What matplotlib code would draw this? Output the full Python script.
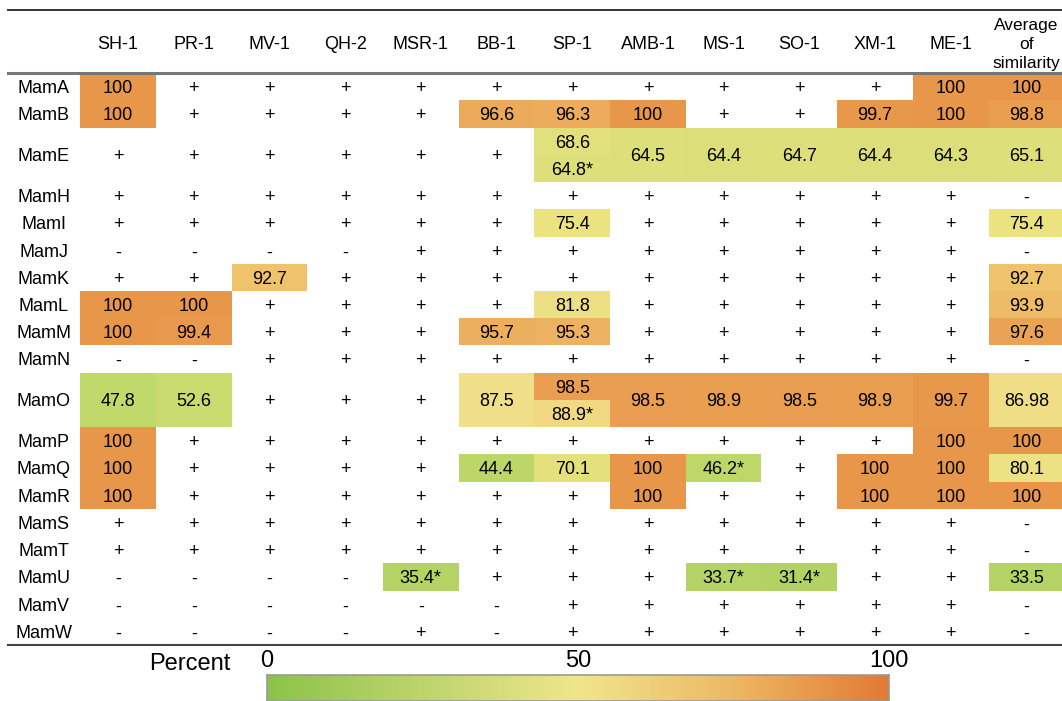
import numpy as np
import matplotlib
matplotlib.use("Agg")
import matplotlib.pyplot as plt
from matplotlib.colors import LinearSegmentedColormap, Normalize
from matplotlib.patches import Rectangle

plt.rcParams['font.family'] = ['Liberation Sans', 'DejaVu Sans']

# ---- data ----
columns = ["SH-1", "PR-1", "MV-1", "QH-2", "MSR-1", "BB-1", "SP-1", "AMB-1",
           "MS-1", "SO-1", "XM-1", "ME-1", "Average\nof\nsimilarity"]
genes = ["MamA", "MamB", "MamE", "MamH", "MamI", "MamJ", "MamK", "MamL", "MamM",
         "MamN", "MamO", "MamP", "MamQ", "MamR", "MamS", "MamT", "MamU", "MamV", "MamW"]
# rows that are drawn twice as tall (split cell in SP-1)
tall_rows = ["MamE", "MamO"]

# "a|b" = split cell (upper value | lower value)
cells = [
    ["100", "+", "+", "+", "+", "+", "+", "+", "+", "+", "+", "100", "100"],
    ["100", "+", "+", "+", "+", "96.6", "96.3", "100", "+", "+", "99.7", "100", "98.8"],
    ["+", "+", "+", "+", "+", "+", "68.6|64.8*", "64.5", "64.4", "64.7", "64.4", "64.3", "65.1"],
    ["+", "+", "+", "+", "+", "+", "+", "+", "+", "+", "+", "+", "-"],
    ["+", "+", "+", "+", "+", "+", "75.4", "+", "+", "+", "+", "+", "75.4"],
    ["-", "-", "-", "-", "+", "+", "+", "+", "+", "+", "+", "+", "-"],
    ["+", "+", "92.7", "+", "+", "+", "+", "+", "+", "+", "+", "+", "92.7"],
    ["100", "100", "+", "+", "+", "+", "81.8", "+", "+", "+", "+", "+", "93.9"],
    ["100", "99.4", "+", "+", "+", "95.7", "95.3", "+", "+", "+", "+", "+", "97.6"],
    ["-", "-", "+", "+", "+", "+", "+", "+", "+", "+", "+", "+", "-"],
    ["47.8", "52.6", "+", "+", "+", "87.5", "98.5|88.9*", "98.5", "98.9", "98.5", "98.9", "99.7", "86.98"],
    ["100", "+", "+", "+", "+", "+", "+", "+", "+", "+", "+", "100", "100"],
    ["100", "+", "+", "+", "+", "44.4", "70.1", "100", "46.2*", "+", "100", "100", "80.1"],
    ["100", "+", "+", "+", "+", "+", "+", "100", "+", "+", "100", "100", "100"],
    ["+", "+", "+", "+", "+", "+", "+", "+", "+", "+", "+", "+", "-"],
    ["+", "+", "+", "+", "+", "+", "+", "+", "+", "+", "+", "+", "-"],
    ["-", "-", "-", "-", "35.4*", "+", "+", "+", "33.7*", "31.4*", "+", "+", "33.5"],
    ["-", "-", "-", "-", "-", "-", "+", "+", "+", "+", "+", "+", "-"],
    ["-", "-", "-", "-", "+", "-", "+", "+", "+", "+", "+", "+", "-"],
]

bar_ticks = [0, 50, 100]

# colour scale used for the cells
cell_cmap = LinearSegmentedColormap.from_list("cells", [
    (0.00, "#B2D264"), (0.214, "#BCD668"), (0.357, "#CEDC72"), (0.50, "#DDDF7A"),
    (0.643, "#EAE37F"), (0.829, "#F0DE88"), (0.886, "#F0C870"), (0.929, "#EDB462"),
    (1.00, "#E8964A")])
cell_norm = Normalize(30, 100)
# colour scale shown in the legend bar
bar_cmap = LinearSegmentedColormap.from_list("bar", [
    (0.0, "#8CC34B"), (0.5, "#F0E68C"), (0.75, "#EDB865"), (1.0, "#E27A35")])

W, H = 1062, 701
fig = plt.figure(figsize=(W / 100, H / 100), dpi=100)
ax = fig.add_axes([8 / W, 1 - 645 / H, (W - 8) / W, 635 / H])
header_h = 2.32
n_units = sum(2 if g in tall_rows else 1 for g in genes)
ax.set_xlim(-1.453, 12.47)
ax.set_ylim(n_units, -header_h)
ax.axis("off")

fs = 13
dy = 0.07  # nudge text a bit below the geometric centre
for j, name in enumerate(columns):
    if "\n" in name:
        ax.text(j, -header_h / 2 + 0.1, name, ha="center", va="center",
                fontsize=12.5, linespacing=1.32)
    else:
        ax.text(j, -header_h / 2 + 0.12, name, ha="center", va="center", fontsize=fs)

y0 = 0
for i, g in enumerate(genes):
    h = 2 if g in tall_rows else 1
    ax.text(-0.98, y0 + h / 2 + dy, g, ha="center", va="center", fontsize=fs)
    for j, s in enumerate(cells[i]):
        parts = s.split("|")
        sub_h = h / len(parts)
        for k, p in enumerate(parts):
            ys = y0 + k * sub_h
            if p not in ("+", "-"):
                v = float(p.rstrip("*"))
                ax.add_patch(Rectangle((j - 0.5, ys), 1, sub_h,
                                       facecolor=cell_cmap(cell_norm(v)),
                                       edgecolor="none", zorder=1))
            ax.text(j, ys + sub_h / 2 + dy + (0.03 if p == "-" else 0), p,
                    ha="center", va="center", fontsize=fs, zorder=3)
    y0 += h

# rules
ax.axhline(-header_h, color="#333333", lw=1.4, clip_on=False)
ax.axhline(0, color="#777777", lw=2.2, clip_on=False)
ax.axhline(n_units, color="#444444", lw=1.5, clip_on=False)

# colour bar legend
cax = fig.add_axes([267 / W, 0, (889 - 267) / W, 26 / H])
grad = np.linspace(0, 100, 512).reshape(1, -1)
cax.imshow(grad, aspect="auto", cmap=bar_cmap, extent=[0, 100, 0, 1])
cax.set_yticks([])
cax.xaxis.tick_top()
cax.set_xticks(bar_ticks)
cax.set_xticklabels([str(t) for t in bar_ticks])
cax.tick_params(axis="x", length=0, pad=2, labelsize=17)
for sp in cax.spines.values():
    sp.set_color("#999999")
    sp.set_linewidth(1.2)
fig.text(190 / W, 1 - 664 / H, "Percent", ha="center", va="center", fontsize=17)

fig.savefig("out.png", dpi=100)
